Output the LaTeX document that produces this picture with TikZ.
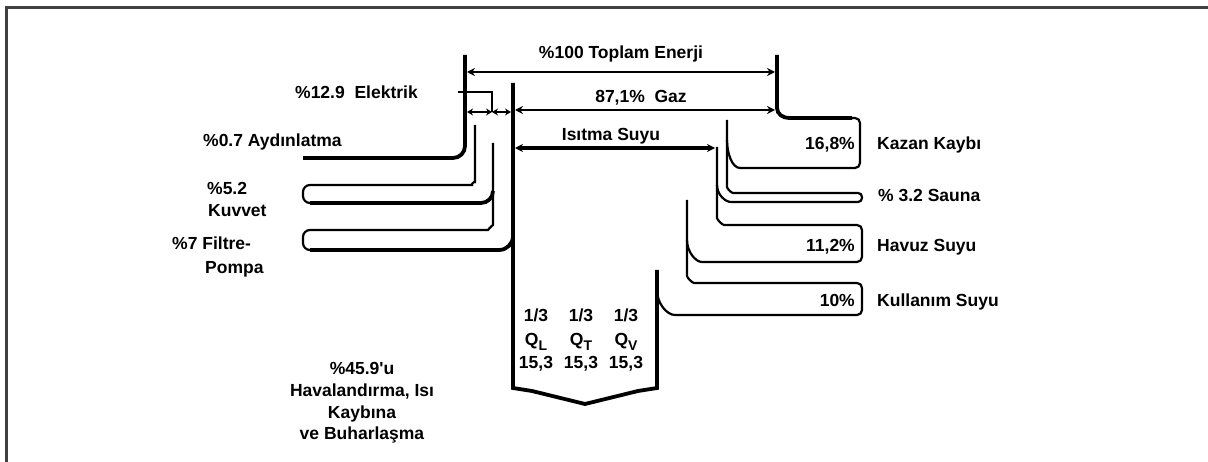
\documentclass[tikz,border=0pt]{standalone}
\usepackage{fontspec}
\setmainfont{Liberation Sans}
\usetikzlibrary{arrows.meta,positioning}

\newcommand\qsub[1]{Q\raisebox{-5pt}{\fontsize{14}{14}\selectfont #1}}

\begin{document}
\begin{tikzpicture}[x=1pt, y=-1pt, >={Stealth[length=8pt,width=8pt]},
  bar/.style={line width=3.8pt},
  band/.style={line width=2.2pt},
  dim/.style={<->, line width=1.8pt},
  lbl/.style={font=\bfseries\fontsize{17.5}{21.8}\selectfont, inner sep=0pt, text height=12.5pt, text depth=0pt},
  multi/.style={font=\bfseries\fontsize{17.5}{21.8}\selectfont, inner sep=0pt, align=center, anchor=north},
  frame/.style={line width=3pt, black!75}]
  \useasboundingbox (0,0) rectangle (1208,462);
  \draw[frame] (6,462) -- (6,8) -- (1208,8);
  \coordinate (totL) at (467,72);
  \coordinate (totR) at (775,72);
  \coordinate (gazL) at (515,110);
  \coordinate (gazR) at (775,110);
  \coordinate (isiL) at (515,148);
  \coordinate (isiR) at (715,148);
  \coordinate (elA) at (467,112);
  \coordinate (elB) at (492,112);
  \coordinate (elC) at (511,112);
  \draw[bar] (465,55) -- (465,146) to[out=-90,in=0] (453,158) -- (303,158);
  \draw[bar] (777,55) -- (777,108) to[out=-90,in=180] (789,118) -- (852,118);
  \draw[band, rounded corners=5] (848,118) -- (860,118) -- (860,168) -- (745,168) to[out=180,in=-90] (727,140);
  \draw[band, rounded corners=4] (727,120) -- (727,183) to[out=-90,in=180] (737,193) -- (862,193) -- (862,202) -- (735,202) to[out=180,in=-90] (717,185);
  \draw[band, rounded corners=5] (717,147) -- (717,213) to[out=-90,in=180] (729,225) -- (862,225) -- (862,262) -- (707,262) to[out=180,in=-90] (687,240);
  \draw[band, rounded corners=5] (687,200) -- (687,271) to[out=-90,in=180] (699,283) -- (862,283) -- (862,315) -- (680,315) to[out=180,in=-90] (657,290);
  \draw[bar] (513,83) -- (513,388) -- (532,391) -- (585,404) -- (638,391) -- (657,388) -- (657,270);
  \draw[band, rounded corners=7] (475,125) -- (475,175) to[out=-90,in=0] (465,185) -- (303,185) -- (303,203) -- (315,203);
  \draw[bar] (310,203) -- (481,203) to[out=0,in=-90] (493,191);
  \draw[band, rounded corners=7] (493,143) -- (493,218) to[out=-90,in=0] (481,230) -- (303,230) -- (303,250) -- (315,250);
  \draw[bar] (310,250) -- (499,250) to[out=0,in=-90] (513,236);
  \draw[line width=1.6pt] (458,92) -- (492,92) -- (elB);
  \draw[dim] (totL) -- node[lbl, above=13pt] (tot) {\%100 Toplam Enerji} (totR);
  \draw[dim] (gazL) -- node[lbl, above=7pt, xshift=-4pt] (gaz) {87,1\%\ \ Gaz} (gazR);
  \draw[<->, line width=3.2pt] (isiL) -- node[lbl, above=6pt, xshift=-4pt] (isi) {Isıtma Suyu} (isiR);
  \draw[<->, line width=2.6pt, >={Stealth[length=6pt,width=7pt]}] (elA) -- (elB);
  \draw[<->, line width=2.6pt, >={Stealth[length=6pt,width=7pt]}] (elB) -- (elC);
  \node[lbl, anchor=west] (elek) at (295,92) {\%12.9\ \ Elektrik};
  \node[lbl, anchor=west] (aydin) at (203,140) {\%0.7 Aydınlatma};
  \node[lbl, anchor=west] (kuv) at (207,188) {\%5.2};
  \node[lbl, anchor=west] (kuvb) at (208,210) {Kuvvet};
  \node[lbl, anchor=west] (filt) at (172,243) {\%7 Filtre-};
  \node[lbl, anchor=west] (pomp) at (205,267) {Pompa};
  \node[multi] (hava) at (362,362) {\%45.9\textquotesingle u\\Havalandırma, Isı\\Kaybına\\ve Buharlaşma};
  \node[multi, font=\bfseries\fontsize{17.5}{23.5}\selectfont] (ql) at (536,309) {1/3\\\qsub{L}\\15,3};
  \node[multi, font=\bfseries\fontsize{17.5}{23.5}\selectfont] (qt) at (581,309) {1/3\\\qsub{T}\\15,3};
  \node[multi, font=\bfseries\fontsize{17.5}{23.5}\selectfont] (qv) at (626,309) {1/3\\\qsub{V}\\15,3};
  \node[lbl, anchor=east] (kazp) at (855,143) {16,8\%};
  \node[lbl, anchor=west] (kaz) at (877,143) {Kazan Kaybı};
  \node[lbl, anchor=west] (sauna) at (878,195) {\% 3.2 Sauna};
  \node[lbl, anchor=east] (havp) at (855,245) {11,2\%};
  \node[lbl, anchor=west] (hav) at (877,245) {Havuz Suyu};
  \node[lbl, anchor=east] (kulp) at (855,300) {10\%};
  \node[lbl, anchor=west] (kul) at (877,300) {Kullanım Suyu};
\end{tikzpicture}
\end{document}
